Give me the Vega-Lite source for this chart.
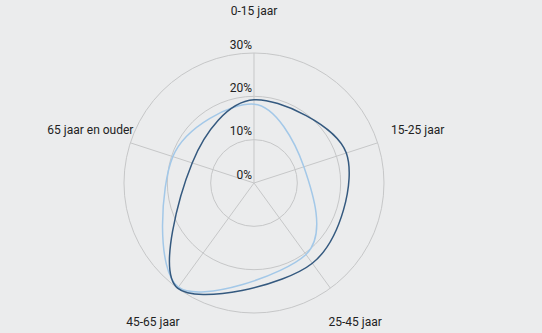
{
  "$schema": "https://vega.github.io/schema/vega-lite/v6.json",
  "width": 542,
  "height": 333,
  "padding": 0,
  "autosize": "none",
  "background": "#ebeced",
  "config": {
    "view": {"stroke": null},
    "text": {"font": "Roboto", "fontSize": 12, "color": "#222222"}
  },
  "datasets": {
    "waarden": [
      {"reeks": "B", "leeftijd": "0-15 jaar", "pct": 18.2},
      {"reeks": "B", "leeftijd": "15-25 jaar", "pct": 12.1},
      {"reeks": "B", "leeftijd": "25-45 jaar", "pct": 20.4},
      {"reeks": "B", "leeftijd": "45-65 jaar", "pct": 29.7},
      {"reeks": "B", "leeftijd": "65 jaar en ouder", "pct": 19.7},
      {"reeks": "A", "leeftijd": "0-15 jaar", "pct": 19.2},
      {"reeks": "A", "leeftijd": "15-25 jaar", "pct": 22.4},
      {"reeks": "A", "leeftijd": "25-45 jaar", "pct": 22.9},
      {"reeks": "A", "leeftijd": "45-65 jaar", "pct": 30.0},
      {"reeks": "A", "leeftijd": "65 jaar en ouder", "pct": 15.0}
    ],
    "categorieen": [
      {"leeftijd": "0-15 jaar"},
      {"leeftijd": "15-25 jaar"},
      {"leeftijd": "25-45 jaar"},
      {"leeftijd": "45-65 jaar"},
      {"leeftijd": "65 jaar en ouder"}
    ],
    "ringen": [{"r": 10}, {"r": 20}, {"r": 30}],
    "schaal": [
      {"v": 0, "t": "0%"},
      {"v": 10, "t": "10%"},
      {"v": 20, "t": "20%"},
      {"v": 30, "t": "30%"}
    ]
  },
  "layer": [
    {
      "data": {"name": "categorieen"},
      "transform": [
        {"calculate": "indexof(['0-15 jaar','15-25 jaar','25-45 jaar','45-65 jaar','65 jaar en ouder'], datum.leeftijd) * 2 * PI / 5", "as": "hoek"},
        {"calculate": "30 * sin(datum.hoek)", "as": "ex"},
        {"calculate": "30 * cos(datum.hoek)", "as": "ey"},
        {"calculate": "0", "as": "nul"}
      ],
      "mark": {"type": "rule", "stroke": "#c6c7c8", "strokeWidth": 1},
      "encoding": {
        "x": {"field": "nul", "type": "quantitative", "scale": {"domain": [-58.615, 66.462], "nice": false, "zero": false}, "axis": null},
        "y": {"field": "nul", "type": "quantitative", "scale": {"domain": [-34.615, 42.231], "nice": false, "zero": false}, "axis": null},
        "x2": {"field": "ex"},
        "y2": {"field": "ey"}
      }
    },
    {
      "data": {"name": "ringen"},
      "transform": [{"calculate": "0", "as": "nul"}],
      "mark": {"type": "point", "shape": "circle", "filled": false, "stroke": "#c6c7c8", "strokeWidth": 1, "opacity": 1},
      "encoding": {
        "x": {"field": "nul", "type": "quantitative", "scale": {"domain": [-58.615, 66.462], "nice": false, "zero": false}, "axis": null},
        "y": {"field": "nul", "type": "quantitative", "scale": {"domain": [-34.615, 42.231], "nice": false, "zero": false}, "axis": null},
        "size": {"field": "r", "type": "quantitative", "scale": {"type": "pow", "exponent": 2, "domain": [0, 30], "range": [0, 67600], "zero": true}, "legend": null}
      }
    },
    {
      "data": {"name": "waarden"},
      "transform": [
        {"calculate": "indexof(['0-15 jaar','15-25 jaar','25-45 jaar','45-65 jaar','65 jaar en ouder'], datum.leeftijd)", "as": "volg"},
        {"calculate": "datum.volg * 2 * PI / 5", "as": "hoek"},
        {"calculate": "datum.pct * sin(datum.hoek)", "as": "px"},
        {"calculate": "datum.pct * cos(datum.hoek)", "as": "py"}
      ],
      "mark": {"type": "line", "interpolate": "cardinal-closed", "tension": 0, "strokeWidth": 1.5},
      "encoding": {
        "x": {"field": "px", "type": "quantitative", "scale": {"domain": [-58.615, 66.462], "nice": false, "zero": false}, "axis": null},
        "y": {"field": "py", "type": "quantitative", "scale": {"domain": [-34.615, 42.231], "nice": false, "zero": false}, "axis": null},
        "order": {"field": "volg", "type": "quantitative"},
        "detail": {"field": "reeks", "type": "nominal"},
        "color": {"field": "reeks", "type": "nominal", "scale": {"domain": ["B", "A"], "range": ["#a3c8e8", "#34597f"]}, "legend": null}
      }
    },
    {
      "data": {"name": "schaal"},
      "transform": [{"calculate": "0", "as": "nul"}],
      "mark": {"type": "text", "align": "right", "baseline": "alphabetic", "dx": -2, "dy": -4.5},
      "encoding": {
        "x": {"field": "nul", "type": "quantitative", "scale": {"domain": [-58.615, 66.462], "nice": false, "zero": false}, "axis": null},
        "y": {"field": "v", "type": "quantitative", "scale": {"domain": [-34.615, 42.231], "nice": false, "zero": false}, "axis": null},
        "text": {"field": "t", "type": "nominal"}
      }
    },
    {
      "data": {"name": "categorieen"},
      "transform": [
        {"calculate": "indexof(['0-15 jaar','15-25 jaar','25-45 jaar','45-65 jaar','65 jaar en ouder'], datum.leeftijd) * 2 * PI / 5", "as": "hoek"},
        {"calculate": "39.7 * sin(datum.hoek)", "as": "lx"},
        {"calculate": "39.7 * cos(datum.hoek)", "as": "ly"}
      ],
      "mark": {"type": "text", "align": "center", "baseline": "middle"},
      "encoding": {
        "x": {"field": "lx", "type": "quantitative", "scale": {"domain": [-58.615, 66.462], "nice": false, "zero": false}, "axis": null},
        "y": {"field": "ly", "type": "quantitative", "scale": {"domain": [-34.615, 42.231], "nice": false, "zero": false}, "axis": null},
        "text": {"field": "leeftijd", "type": "nominal"}
      }
    }
  ]
}
